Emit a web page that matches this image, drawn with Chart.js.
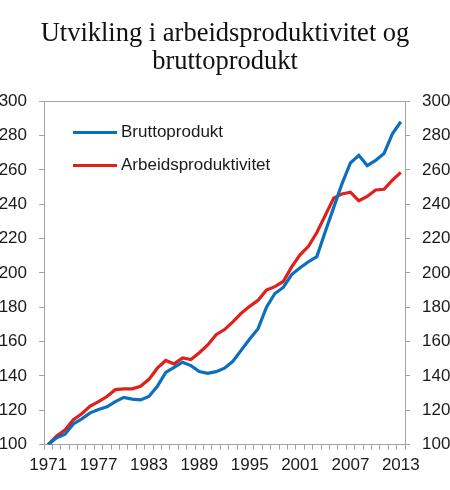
<!DOCTYPE html>
<html>
<head>
<meta charset="utf-8">
<script src="https://cdn.jsdelivr.net/npm/chart.js@4.4.1/dist/chart.umd.min.js"></script>
<style>
  html, body { margin: 0; padding: 0; background: #fff; }
  #wrap { position: relative; width: 450px; height: 490px; overflow: hidden; }
  #wrap canvas { position: absolute; left: 0; top: 0; }
  .leg { position: absolute; font-family: Arial, "Liberation Sans", sans-serif; font-size: 17px; color: #1a1a1a; line-height: 20px; }
  .leg span.sw { position: absolute; left: 0; top: 9px; width: 44px; height: 3px; }
  .leg span.tx { position: absolute; left: 48px; top: 0; white-space: nowrap; }
</style>
</head>
<body>
<div id="wrap">
  <canvas id="c" width="450" height="490"></canvas>
  <div class="leg" style="left:73px; top:122px;"><span class="sw" style="background:#0b6fbe"></span><span class="tx">Bruttoprodukt</span></div>
  <div class="leg" style="left:73px; top:155px;"><span class="sw" style="background:#e0201b"></span><span class="tx">Arbeidsproduktivitet</span></div>
</div>
<script>
const years = [];
for (let y = 1971; y <= 2013; y++) years.push(String(y));

const bruttoprodukt = [
  100, 104, 106, 112, 115, 118.5, 120.5, 122, 125, 127.5,
  126.5, 126, 128, 134, 142, 145, 148, 146, 142.5, 141.5,
  142.5, 144.5, 148.5, 155, 161.5, 167.5, 180, 188, 191.5, 199,
  203, 206.5, 209.5, 224, 238, 252, 264, 268.5, 262.5, 265.5,
  269.5, 281, 288
];

const arbeidsproduktivitet = [
  100, 105, 108.5, 114.5, 118, 122.5, 125, 128, 132, 132.5,
  132.5, 134, 138, 144.5, 149, 147, 150.5, 149.5, 153.5, 158,
  164, 167, 171.5, 176.5, 180.5, 184, 190, 192, 195, 203.5,
  210.5, 215.5, 223.5, 233.5, 243.5, 246, 247, 242, 244.5, 248.3,
  248.7, 254, 258.5
];

const yTicks = [100, 120, 140, 160, 180, 200, 220, 240, 260, 280, 300];
const labelEvery = 6;

const axisColor = '#a3a3a3';
const textColor = '#1a1a1a';
const tickFont = { family: 'Arial, "Liberation Sans", sans-serif', size: 17 };

const topBorder = {
  id: 'topBorder',
  afterDatasetsDraw(chart) {
    const { ctx, chartArea } = chart;
    ctx.save();
    ctx.strokeStyle = axisColor;
    ctx.lineWidth = 1;
    ctx.beginPath();
    ctx.moveTo(chartArea.left - 5, Math.round(chartArea.top) + 0.5);
    ctx.lineTo(chartArea.right + 5, Math.round(chartArea.top) + 0.5);
    ctx.stroke();
    ctx.restore();
  }
};

function yAxis(position, w) {
  return {
    type: 'linear',
    position: position,
    min: yTicks[0],
    max: yTicks[yTicks.length - 1],
    afterBuildTicks(axis) { axis.ticks = yTicks.map(v => ({ value: v })); },
    afterFit(axis) { axis.width = w; },
    border: { display: true, color: axisColor, width: 1 },
    grid: { display: true, drawOnChartArea: false, drawTicks: true, tickLength: 5, color: axisColor },
    ticks: { font: tickFont, color: textColor, padding: 12 }
  };
}

new Chart(document.getElementById('c'), {
  type: 'line',
  data: {
    labels: years,
    datasets: [
      { label: 'Bruttoprodukt', data: bruttoprodukt, borderColor: '#0b6fbe', backgroundColor: '#0b6fbe', borderWidth: 3.2, pointRadius: 0, tension: 0, yAxisID: 'y' },
      { label: 'Arbeidsproduktivitet', data: arbeidsproduktivitet, borderColor: '#e0201b', backgroundColor: '#e0201b', borderWidth: 3.2, pointRadius: 0, tension: 0, yAxisID: 'y' }
    ]
  },
  options: {
    responsive: false,
    animation: false,
    devicePixelRatio: 1,
    layout: { padding: { left: 0, right: 0, top: 0, bottom: 8 } },
    plugins: {
      legend: { display: false },
      tooltip: { enabled: false },
      title: {
        display: true,
        text: ['Utvikling i arbeidsproduktivitet og', 'bruttoprodukt'],
        font: { family: '"Liberation Serif", "Times New Roman", serif', size: 26.5, weight: 'normal', lineHeight: 1.06 },
        color: '#111',
        padding: { top: 20, bottom: 25 }
      }
    },
    scales: {
      x: {
        type: 'category',
        offset: true,
        border: { display: true, color: axisColor, width: 1 },
        grid: { display: true, offset: true, drawOnChartArea: false, drawTicks: true, tickLength: 5, color: axisColor },
        ticks: {
          autoSkip: false, maxRotation: 0, minRotation: 0,
          font: tickFont, color: textColor, padding: 6,
          callback(value, index) { return index % labelEvery === 0 ? years[index] : ''; }
        }
      },
      y: yAxis('left', 44),
      y2: yAxis('right', 45)
    }
  },
  plugins: [topBorder]
});
</script>
</body>
</html>
